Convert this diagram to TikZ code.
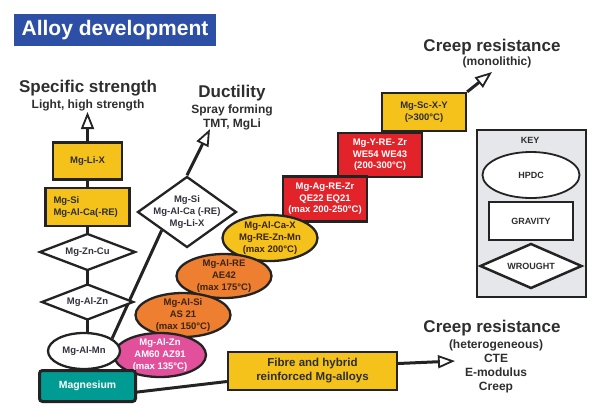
\documentclass[tikz,border=0pt]{standalone}
\usepackage{fontspec}
\setmainfont{Liberation Sans}
\usetikzlibrary{shapes.geometric,arrows.meta}
\pgfdeclarelayer{background}
\pgfsetlayers{background,main}
\definecolor{titleblue}{HTML}{2D4FA6}
\definecolor{myyellow}{HTML}{F5C21B}
\definecolor{myorange}{HTML}{EE7E30}
\definecolor{mypink}{HTML}{E2509C}
\definecolor{myred}{HTML}{E2232A}
\definecolor{myteal}{HTML}{009C94}
\definecolor{keygray}{HTML}{E6E7EB}
\definecolor{ink}{HTML}{232323}
\definecolor{txtc}{HTML}{2E2E2E}
\definecolor{diatxt}{HTML}{34343F}
\definecolor{brtxt}{HTML}{3B2414}
\newcommand{\nf}{\fontsize{9.5}{11.7}\selectfont\bfseries}
\newcommand{\hdf}{\fontsize{17}{20}\selectfont\bfseries}
\newcommand{\subf}{\fontsize{12}{14}\selectfont\bfseries}
\newcommand{\keyf}{\fontsize{9}{11}\selectfont\bfseries}
\begin{document}
\begin{tikzpicture}[x=1pt,y=-1pt,
  shp/.style={draw=ink,line width=2.3pt,inner sep=0pt},
  rbox/.style={shp,rectangle,align=center,font=\nf,text=txtc},
  ell/.style={shp,ellipse,align=center,font=\nf,text=txtc},
  dia/.style={shp,diamond,fill=white,shape aspect=2.6,align=center,font=\nf,text=diatxt},
  txt/.style={inner sep=0pt,align=center,font=\nf,text=txtc},
  hd/.style={inner sep=0pt,font=\hdf,text=txtc},
  sub/.style={inner sep=0pt,font=\subf,text=txtc},
  conn/.style={draw=ink,line width=3pt},
  arr/.style={conn,-{Triangle[length=17pt,width=13pt,fill=white,line width=1.8pt]}}
]
\useasboundingbox (0,0) rectangle (600,416);
% title
\node[fill=titleblue,minimum width=202pt,minimum height=32pt,inner sep=0pt,text=white,font=\fontsize{21}{24}\selectfont\bfseries] (title) at (115,30) {Alloy development};
% headings
\node[hd,anchor=base] (spec) at (88,92) {Specific strength};
\node[sub,anchor=base] (specsub) at (88,108) {Light, high strength};
\coordinate (spectip) at (87.5,112);
\node[hd,anchor=base] (duct) at (232,97) {Ductility};
\node[sub,anchor=base] (ductsub1) at (232,113) {Spray forming};
\node[sub,anchor=base] (ductsub2) at (232,127) {TMT, MgLi};
\coordinate (ducttip) at (210,129);
\node[hd,anchor=base] (cm) at (492,51) {Creep resistance};
\node[sub,anchor=base] (cmsub) at (497,65) {(monolithic)};
\coordinate (cmtip) at (492,72);
\node[hd,anchor=base] (ch) at (492,332) {Creep resistance};
\node[sub,anchor=base] (ch1) at (496,348) {(heterogeneous)};
\node[sub,anchor=base] (ch2) at (496,362) {CTE};
\node[sub,anchor=base] (ch3) at (496,376) {E-modulus};
\node[sub,anchor=base] (ch4) at (496,390) {Creep};
\coordinate (chtip) at (455,361);
% left column
\node[rbox,fill=myyellow,minimum width=69pt,minimum height=37pt] (mglix) at (87.5,161) {Mg-Li-X};
\node[rbox,fill=myyellow,minimum width=84pt,minimum height=38pt,text width=68pt,align=left,inner xsep=8pt] (mgsibox) at (87.5,207) {Mg-Si\\Mg-Al-Ca(-RE)};
\node[dia,minimum width=96pt,minimum height=37pt] (mgzncu) at (87.5,252) {Mg-Zn-Cu};
\node[dia,minimum width=92pt,minimum height=36pt] (mgalzn) at (87.5,302) {Mg-Al-Zn};
% middle diamond
\node[dia,minimum width=99pt,minimum height=71pt] (mgdia) at (187,212) {};
\node[txt,text=diatxt] (mgdiat) at (187,212) {Mg-Si\\Mg-Al-Ca (-RE)\\Mg-Li-X};
% red / yellow boxes
\node[rbox,fill=myyellow,minimum width=84pt,minimum height=38pt] (mgsc) at (424,112) {Mg-Sc-X-Y\\(>300°C)};
\node[rbox,fill=myred,text=white,minimum width=84pt,minimum height=44pt] (mgyre) at (380,155) {Mg-Y-RE- Zr\\WE54 WE43\\(200-300°C)};
\node[rbox,fill=myred,text=white,minimum width=84pt,minimum height=45pt] (mgag) at (325,199) {Mg-Ag-RE-Zr\\QE22 EQ21\\(max 200-250°C)};
% ellipse chain
\node[ell,fill=myyellow,minimum width=95pt,minimum height=46pt] (mgalcax) at (270,238) {};
\node[txt,text=brtxt] (mgalcaxt) at (270,238) {Mg-Al-Ca-X\\Mg-RE-Zn-Mn\\(max 200°C)};
\node[ell,fill=myorange,minimum width=95pt,minimum height=44pt] (mgalre) at (224,276) {};
\node[txt,text=brtxt] (mgalret) at (224,276) {Mg-Al-RE\\AE42\\(max 175°C)};
\node[ell,fill=myorange,minimum width=95pt,minimum height=44pt] (mgalsi) at (183,315) {};
\node[txt,text=brtxt] (mgalsit) at (183,315) {Mg-Al-Si\\AS 21\\(max 150°C)};
\node[ell,fill=mypink,minimum width=92pt,minimum height=44pt] (mgalznp) at (160,355) {};
\node[txt,text=white] (mgalznpt) at (160,355) {Mg-Al-Zn\\AM60 AZ91\\(max 135°C)};
\node[ell,fill=white,minimum width=72pt,minimum height=36pt,text=diatxt] (mgalmn) at (84,351) {Mg-Al-Mn};
\node[rbox,fill=myteal,rounded corners=3pt,line width=3pt,minimum width=96pt,minimum height=31pt,text=white,font=\fontsize{10.4}{12}\selectfont\bfseries] (mg) at (87.5,386) {Magnesium};
% fibre
\node[rbox,fill=myyellow,minimum width=169pt,minimum height=38pt,font=\fontsize{11.5}{14}\selectfont\bfseries] (fibre) at (312.5,371) {Fibre and hybrid\\reinforced Mg-alloys};
% key
\node[draw=ink,line width=2.5pt,fill=keygray,minimum width=109pt,minimum height=167pt,inner sep=0pt] (key) at (531.5,213.5) {};
\node[inner sep=0pt,font=\keyf,text=txtc,anchor=base] (keyt) at (530,143) {KEY};
\node[ell,fill=white,line width=1.8pt,minimum width=97pt,minimum height=46pt,font=\keyf] (hpdc) at (531,175) {HPDC};
\node[rbox,fill=white,line width=2.5pt,minimum width=84pt,minimum height=38pt,font=\keyf] (grav) at (531,221) {GRAVITY};
\node[dia,line width=2.5pt,minimum width=102pt,minimum height=45pt,font=\keyf,text=txtc] (wrought) at (531,266) {WROUGHT};
% connectors
\begin{pgfonlayer}{background}
\draw[arr] (mglix.north) -- (spectip);
\draw[conn] (mglix.south) -- (mg.north);
\draw[conn] (mgalmn.24) -- (mgdia.south west);
\draw[arr] (mgdia.north) -- (ducttip);
\draw[arr] (mgsc.north east) -- (cmtip);
\draw[conn] (mg.-7) -- (fibre.187);
\draw[arr] (fibre.5) -- (chtip);
\end{pgfonlayer}
\end{tikzpicture}
\end{document}
